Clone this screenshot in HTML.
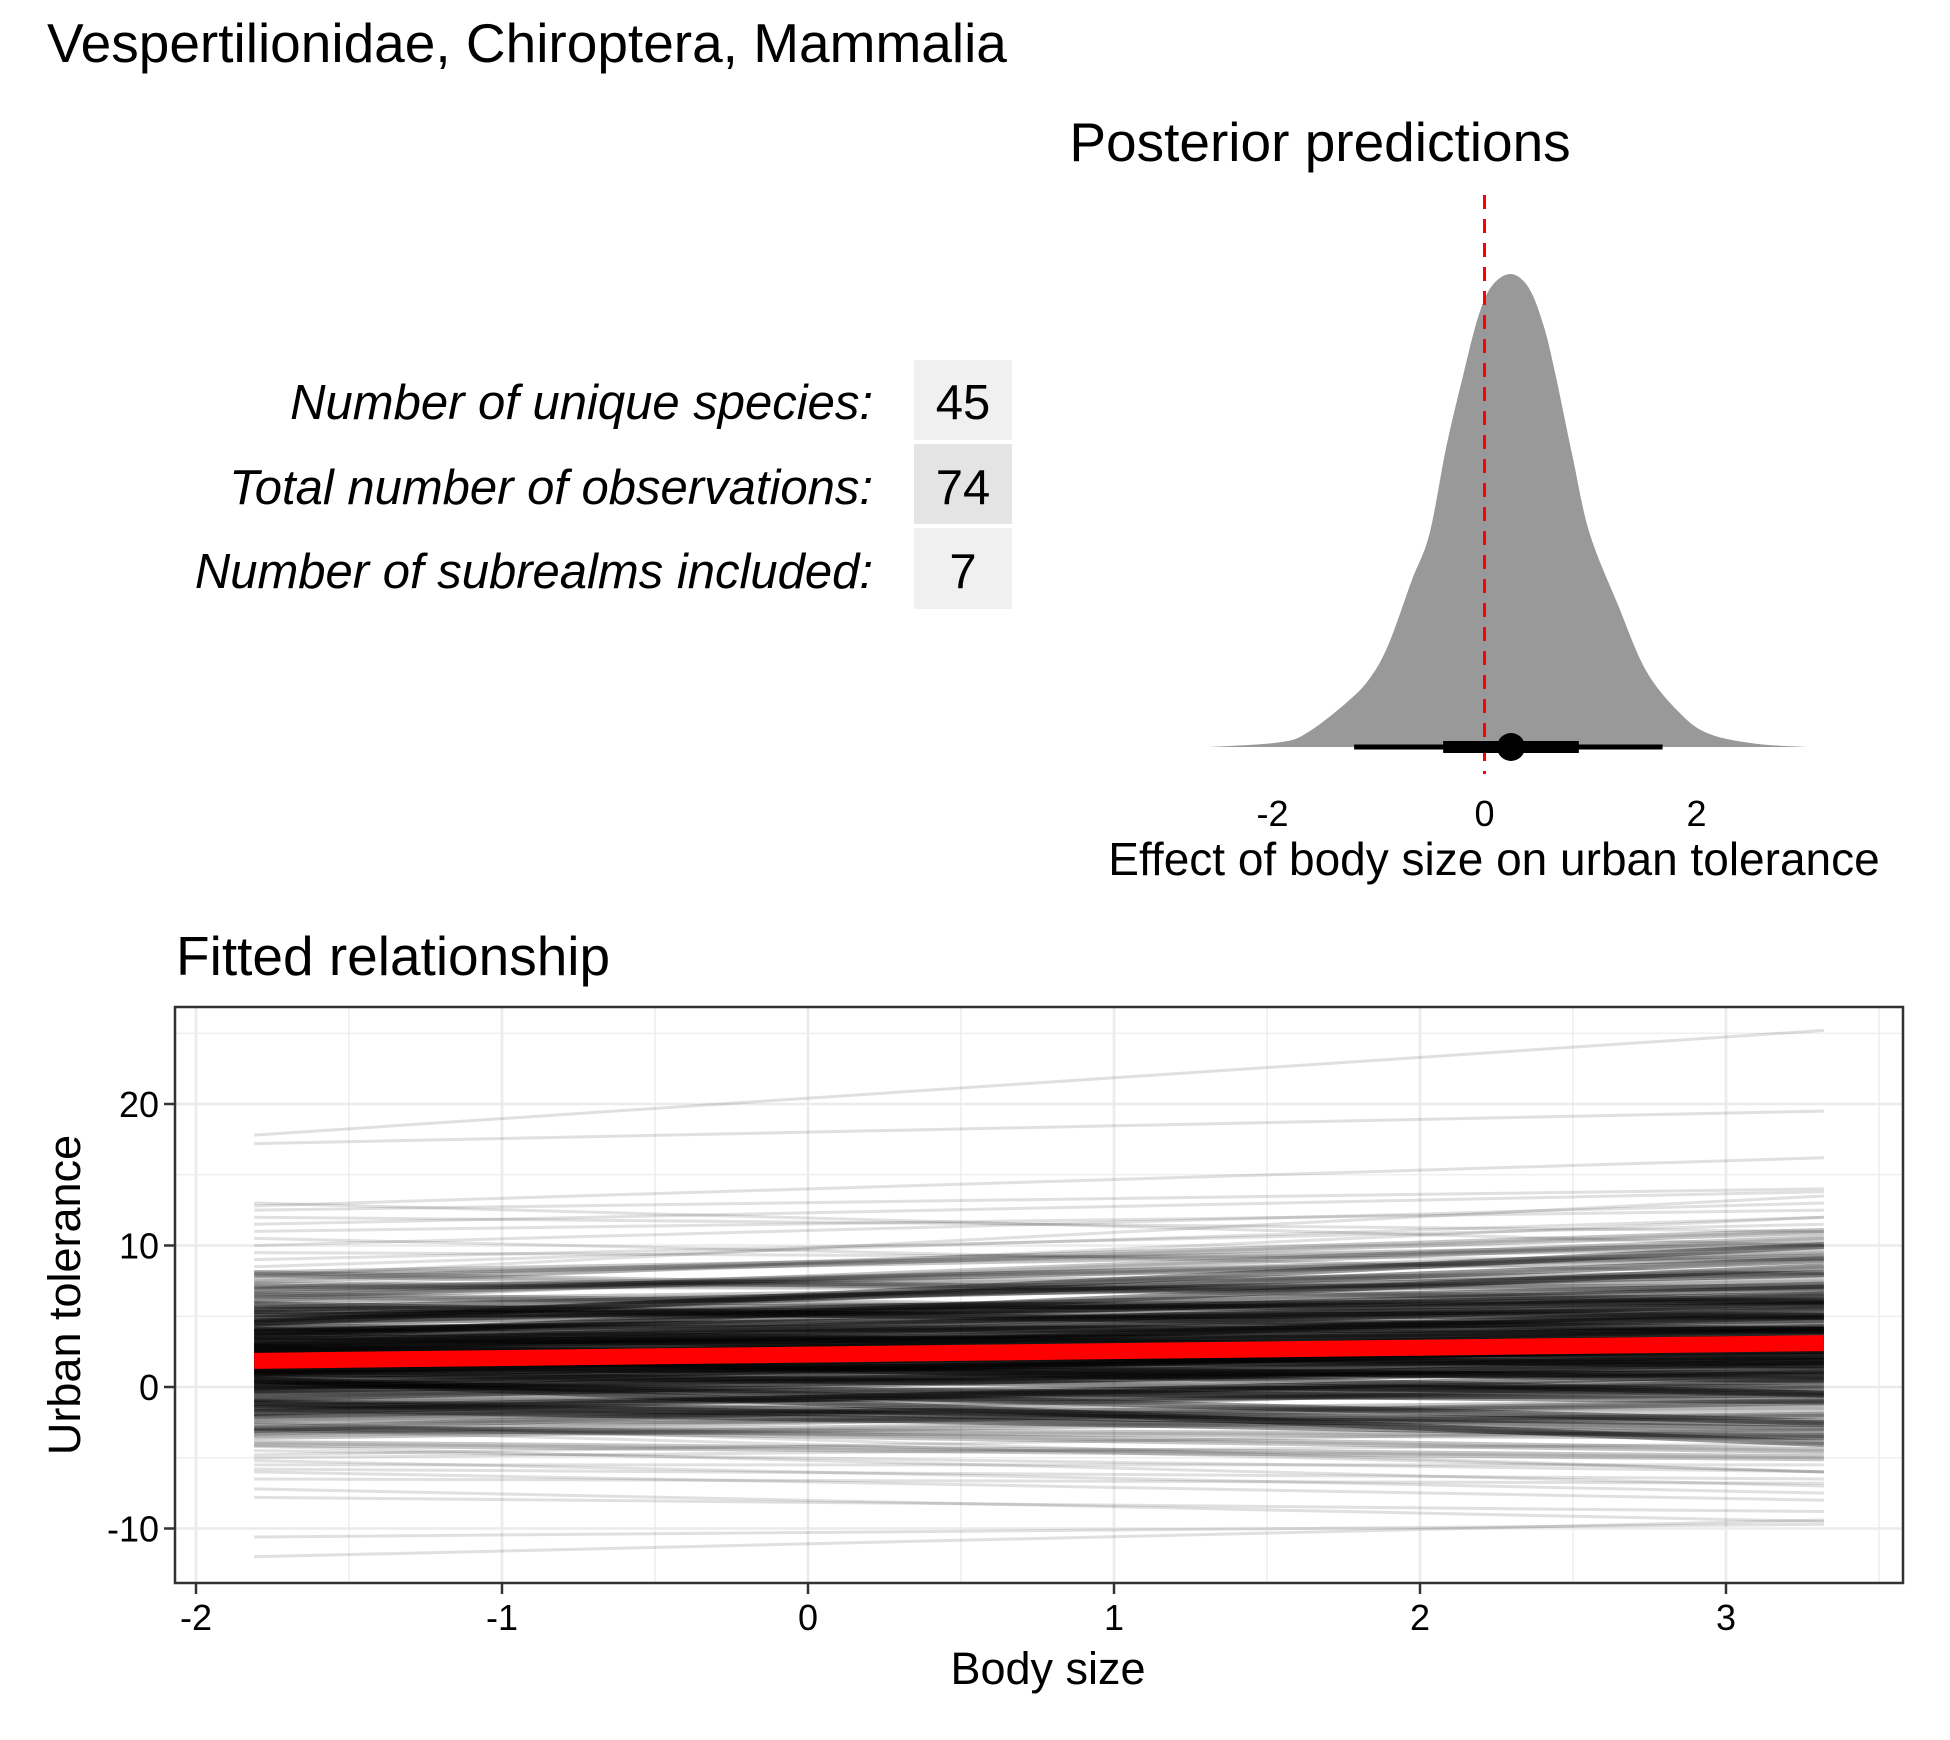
<!DOCTYPE html>
<html><head><meta charset="utf-8">
<style>
html,body{margin:0;padding:0;background:#fff;}
svg{display:block;font-family:"Liberation Sans",Arial,sans-serif;}
</style></head>
<body>
<svg id="fig" width="1950" height="1740" viewBox="0 0 1950 1740" xmlns="http://www.w3.org/2000/svg">
<rect width="1950" height="1740" fill="#fff"/>
<text x="47" y="62" font-size="55" fill="#000">Vespertilionidae, Chiroptera, Mammalia</text>

<g>
<rect x="914" y="360" width="98" height="80" fill="#f0f0f0"/>
<rect x="914" y="444" width="98" height="80" fill="#e4e4e4"/>
<rect x="914" y="528" width="98" height="81" fill="#f0f0f0"/>
<text x="873" y="419" font-size="49" font-style="italic" text-anchor="end">Number of unique species:</text>
<text x="873" y="504" font-size="49" font-style="italic" text-anchor="end">Total number of observations:</text>
<text x="873" y="588" font-size="49" font-style="italic" text-anchor="end">Number of subrealms included:</text>
<text x="963" y="419" font-size="49" text-anchor="middle">45</text>
<text x="963" y="504" font-size="49" text-anchor="middle">74</text>
<text x="963" y="588" font-size="49" text-anchor="middle">7</text>
</g>

<g id="post">
<text x="1320" y="161" font-size="55" text-anchor="middle">Posterior predictions</text>
<text x="1494" y="875" font-size="46" text-anchor="middle">Effect of body size on urban tolerance</text>
</g>

<g id="fit">
<text x="176" y="975" font-size="55">Fitted relationship</text>
<text x="1048" y="1684" font-size="45" text-anchor="middle">Body size</text>
<text transform="translate(80,1295) rotate(-90)" font-size="45" text-anchor="middle">Urban tolerance</text>
</g>
</svg>
<script>
// ---------- posterior density data ----------
const densX = [-2.6,-1.93,-1.66,-1.28,-1.07,-0.90,-0.69,-0.52,-0.36,-0.20,-0.06,0.07,0.25,0.42,0.56,0.67,0.83,0.99,1.26,1.53,1.86,2.13,2.56,3.05];
const densY = [0,0.01,0.032,0.098,0.149,0.22,0.35,0.45,0.635,0.787,0.909,0.975,1.0,0.97,0.889,0.787,0.615,0.453,0.30,0.159,0.068,0.027,0.007,0];
const postTicks = [-2,0,2];
const postPoint = [0.25];
const thinInterval = [-1.23,1.68];
const thickInterval = [-0.39,0.89];
const refLine = [0];

// ---------- fitted relationship data ----------
const xStart = [-1.81];
const xEnd = [3.32];
const drawStart = [2,1.5,2.5,1,3,0.5,2.2,1.8,2.8,1.2,3.5,0,4,-0.5,2,1.6,3.2,0.8,2.4,1.4,4.5,-1,5,-1.5,3.8,0.2,4.2,-0.8,2.6,1,5.5,-2,6,-2.5,4.8,-1.2,5.2,-1.8,3.5,0.5,6.5,-3,7,-3.5,6.2,-2.8,7.5,-4,7.2,-3.2,8,-4.5,8.5,-5,7.8,-4.2,9,-5.5,9.5,-5.2,10,-5.8,10.5,-3,11,-4.8,12,-6,12.5,13,3,1,2,4,0,2.8,1.5,3.6,-0.3,2.3,5.8,-1.5,6.5,-2,4.5,0.5,7,-2.5,8,-3,1.8,2.1,1.9,2.3,1.5,2.6,1.2,2.9,0.9,3.3,17.8,17.2,12.8,-7.8,-7.2,-12,-10.6,11.5,-6.5,4.6,-0.2,5.4,-1.1,3.9,0.3,6.8,-2.2];
const drawEnd = [3,3.5,2.8,2,4.5,1,3.3,2.5,4,3,5,1.5,5.5,0,4.2,1.8,3.6,2.6,5,0.8,6.5,-0.5,6,0.5,7,-1,4,1.8,6,-0.5,8,-1.5,7.5,-2,9,-3,5,1,8.5,-2.5,9.5,-3.5,8,-2,10.5,-4.5,11,-5,7,-1,10,-6,12,-4,13.5,-7,11.5,-5.5,9,-7.5,13,-6.5,8,-6,12.5,-3,11,-8,14,10,6.5,4,0.5,2.5,3,1.5,5.5,2,2.2,-0.5,4,-3.5,5,0,10,-4,12,-6,6,0.5,3,3.2,2.9,3.6,2.6,3.4,2.2,4.1,1.6,4.8,25.2,19.5,16.2,-8.8,-9.5,-9.4,-9.7,13.8,-6.8,7.2,1.2,6.1,-2.6,5.8,2.9,9.2,-1.1];
const meanStart = [1.85];
const meanEnd = [3.1];
const xTicks = [-2,-1,0,1,2,3];
const xMinor = [-1.5,-0.5,0.5,1.5,2.5,3.5];
const yTicks = [-10,0,10,20];
const yMinor = [-5,5,15,25];

const NS = 'http://www.w3.org/2000/svg';
function mk(tag, attrs, parent){
  const e = document.createElementNS(NS, tag);
  for (const k in attrs) e.setAttribute(k, attrs[k]);
  parent.appendChild(e);
  return e;
}

// posterior scales
const px = v => 1484.5 + v * 106;
const py = h => 747 - h * 473;
const post = document.getElementById('post');
const P = densX.map((v, i) => [px(v), py(densY[i])]);
let d = 'M' + P[0][0] + ',' + P[0][1];
for (let i = 0; i < P.length - 1; i++) {
  const p0 = P[Math.max(0, i - 1)], p1 = P[i], p2 = P[i + 1], p3 = P[Math.min(P.length - 1, i + 2)];
  const c1x = p1[0] + (p2[0] - p0[0]) / 6, c1y = p1[1] + (p2[1] - p0[1]) / 6;
  const c2x = p2[0] - (p3[0] - p1[0]) / 6, c2y = p2[1] - (p3[1] - p1[1]) / 6;
  d += ' C' + c1x + ',' + Math.min(c1y, py(0)) + ' ' + c2x + ',' + Math.min(c2y, py(0)) + ' ' + p2[0] + ',' + p2[1];
}
d += ' Z';
const dens = mk('path', {d: d, fill: '#999999'}, post);



const rl = mk('line', {x1: px(refLine[0]), x2: px(refLine[0]), y1: 195, y2: 774, stroke: '#ff0000', 'stroke-width': 3, 'stroke-dasharray': '14,10'}, post);



const thin = mk('line', {x1: px(thinInterval[0]), x2: px(thinInterval[1]), y1: 747, y2: 747, stroke: '#000', 'stroke-width': 5}, post);


const thick = mk('line', {x1: px(thickInterval[0]), x2: px(thickInterval[1]), y1: 747, y2: 747, stroke: '#000', 'stroke-width': 12}, post);


const pt = mk('circle', {cx: px(postPoint[0]), cy: 747, r: 14, fill: '#000'}, post);



postTicks.forEach(t => {
  const tx = mk('text', {x: px(t), y: 826, 'font-size': 36, 'text-anchor': 'middle', fill: '#000'}, post);
  tx.textContent = String(t);
  
  
});

// fitted scales
const L = 175, R = 1903, T = 1007, B = 1583;
const fx = v => 196 + (v + 2) * 306;
const fy = v => 1387 - v * 14.15;
const fit = document.getElementById('fit');
const grid = mk('g', {}, fit);


xMinor.forEach(v => {
  const g = mk('line', {x1: fx(v), x2: fx(v), y1: T, y2: B, stroke: '#ebebeb', 'stroke-width': 1.3}, grid);
  
  
});
yMinor.forEach(v => {
  const g = mk('line', {x1: L, x2: R, y1: fy(v), y2: fy(v), stroke: '#ebebeb', 'stroke-width': 1.3}, grid);
  
  
});
xTicks.forEach(v => {
  const g = mk('line', {x1: fx(v), x2: fx(v), y1: T, y2: B, stroke: '#ebebeb', 'stroke-width': 2.6}, grid);
  
  
});
yTicks.forEach(v => {
  const g = mk('line', {x1: L, x2: R, y1: fy(v), y2: fy(v), stroke: '#ebebeb', 'stroke-width': 2.6}, grid);
  
  
});

const draws = mk('g', {}, fit);


for (let i = 0; i < drawStart.length; i++) {
  const ln = mk('line', {x1: fx(xStart[0]), x2: fx(xEnd[0]), y1: fy(drawStart[i]), y2: fy(drawEnd[i]), stroke: '#000', 'stroke-opacity': 0.12, 'stroke-width': 3}, draws);
  
  
}
// dense core overlay
for (let i = 0; i < drawStart.length; i++) {
  if (Math.abs(drawStart[i] - 2) < 6.5 && Math.abs(drawEnd[i] - 3) < 8.5) {
    const w = Math.abs(drawStart[i] - 2) < 4 ? 0.4 : 0.22;
    const ln = mk('line', {x1: fx(xStart[0]), x2: fx(xEnd[0]), y1: fy(drawStart[i]), y2: fy(drawEnd[i]), stroke: '#000', 'stroke-opacity': w, 'stroke-width': 7}, draws);
    
    
  }
}
const mean = mk('line', {x1: fx(xStart[0]), x2: fx(xEnd[0]), y1: fy(meanStart[0]), y2: fy(meanEnd[0]), stroke: '#ff0000', 'stroke-width': 16}, fit);



const frame = mk('rect', {x: L, y: T, width: R - L, height: B - T, fill: 'none', stroke: '#333', 'stroke-width': 2.5}, fit);



xTicks.forEach(v => {
  const tk = mk('line', {x1: fx(v), x2: fx(v), y1: B, y2: B + 11, stroke: '#333', 'stroke-width': 2.5}, fit);
  
  
  const tx = mk('text', {x: fx(v), y: 1630, 'font-size': 36, 'text-anchor': 'middle', fill: '#000'}, fit);
  tx.textContent = String(v);
  
  
});
yTicks.forEach(v => {
  const tk = mk('line', {x1: L - 11, x2: L, y1: fy(v), y2: fy(v), stroke: '#333', 'stroke-width': 2.5}, fit);
  
  
  const tx = mk('text', {x: L - 16, y: fy(v) + 13, 'font-size': 36, 'text-anchor': 'end', fill: '#000'}, fit);
  tx.textContent = String(v);
  
  
});
</script>
</body></html>
